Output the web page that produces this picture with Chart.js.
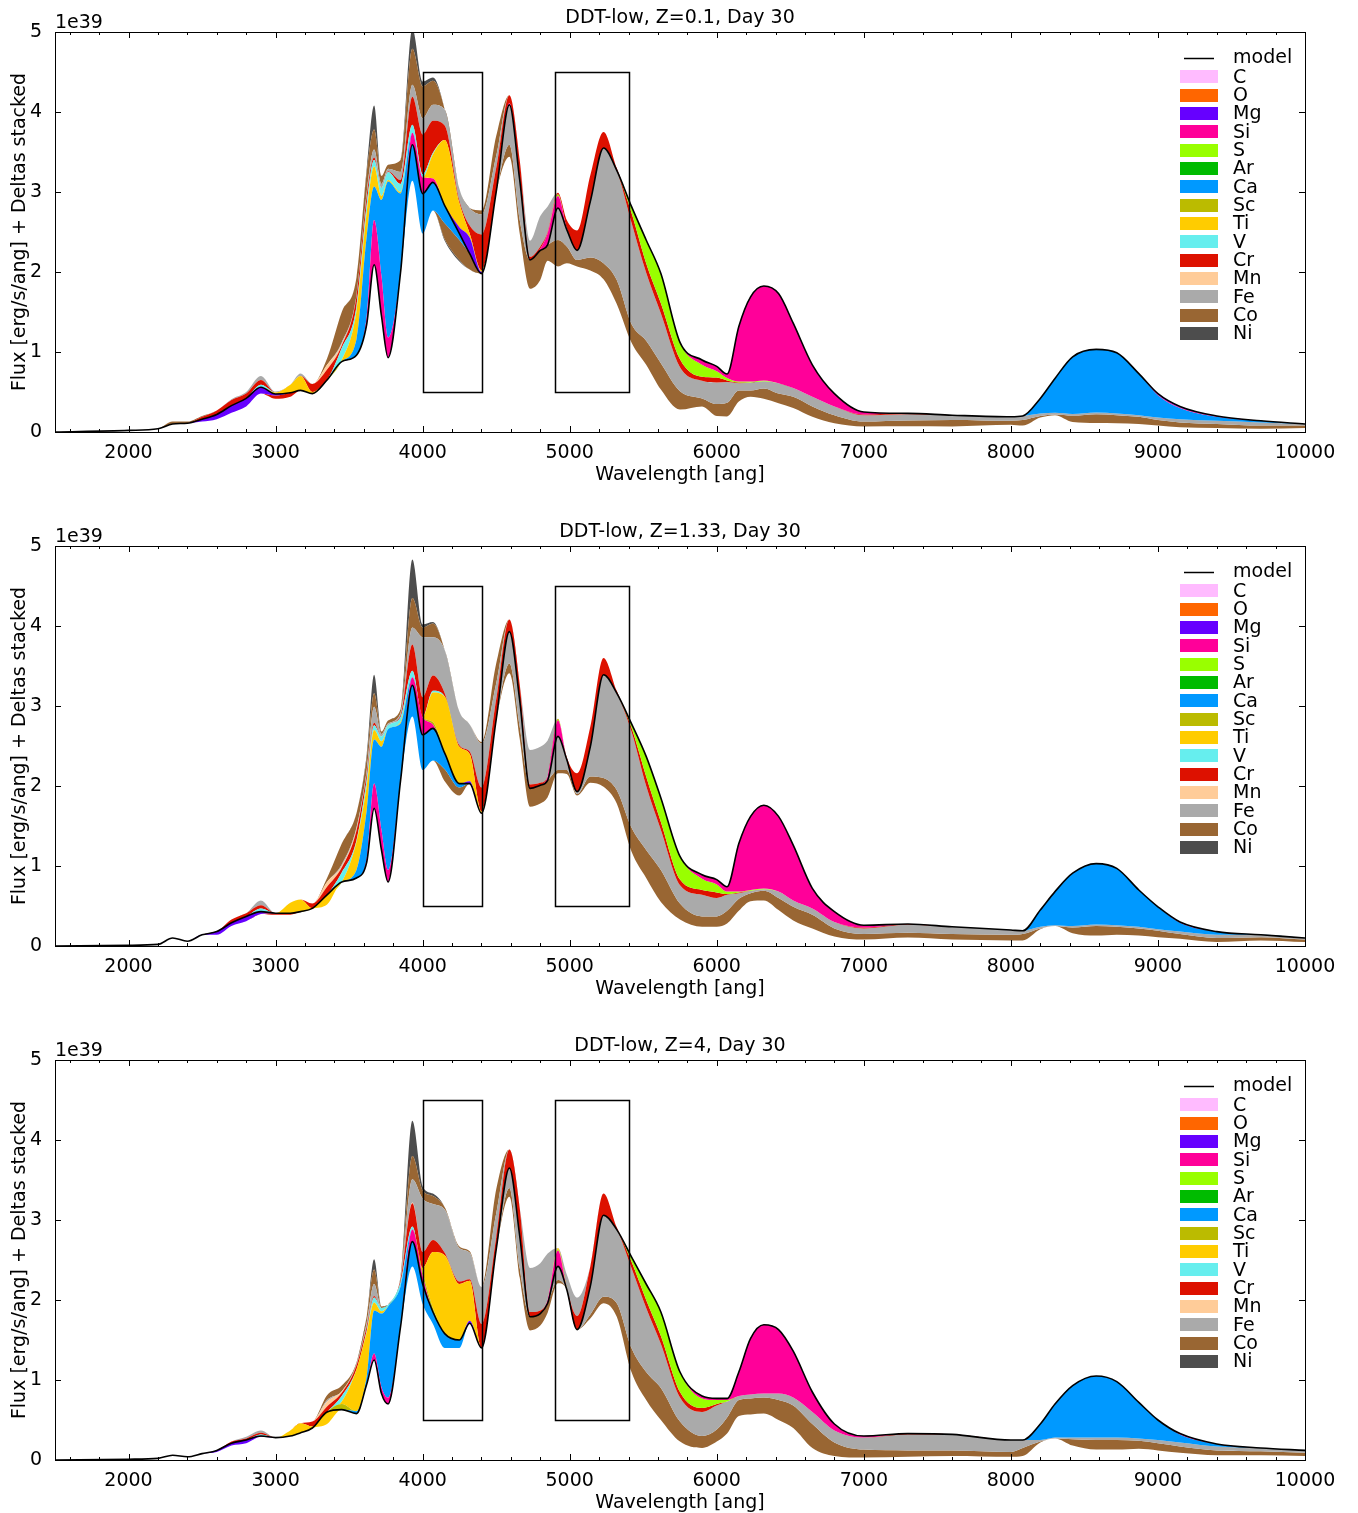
<!DOCTYPE html>
<html>
<head>
<meta charset="utf-8">
<script src="https://cdn.jsdelivr.net/npm/chart.js@4.4.1/dist/chart.umd.min.js"></script>
<style>
  html, body { margin: 0; padding: 0; background: #fff; overflow: hidden; }
  .panel { width: 1358px; height: 514px; }
</style>
</head>
<body>
<div class="panel"><canvas id="c1" width="1358" height="514"></canvas></div>
<div class="panel"><canvas id="c2" width="1358" height="514"></canvas></div>
<div class="panel"><canvas id="c3" width="1358" height="514"></canvas></div>
<script>
// wavelength grid [ang]
const wave = [1500,2000,2200,2300,2400,2500,2600,2700,2800,2900,
  3000,3100,3170,3250,3350,3450,3550,3620,3670,3720,
  3765,3850,3930,4000,4070,4150,4250,4320,4400,4500,
  4590,4660,4730,4800,4850,4920,4980,5050,5140,5230,
  5320,5420,5520,5620,5750,5900,6000,6070,6150,6230,
  6320,6420,6520,6650,6800,7000,7300,7600,8000,8080,
  8200,8300,8420,8580,8720,8870,9000,9150,9400,9700,
  10000];

const xTicks = [2000, 3000, 4000, 5000, 6000, 7000, 8000, 9000, 10000];
const yTicks = [0, 1, 2, 3, 4, 5];
const boxRanges = [[4000, 4400], [4900, 5400]];
const boxFlux = [0.5, 4.5];
const titles = ['DDT-low, Z=0.1, Day 30', 'DDT-low, Z=1.33, Day 30', 'DDT-low, Z=4, Day 30'];

const elements = ['C','O','Mg','Si','S','Ar','Ca','Sc','Ti','V','Cr','Mn','Fe','Co','Ni'];
const colors = ['#ffbbff','#ff6600','#6600ff','#ff0099','#99ff00','#00bb00','#0099ff','#bbbb00',
  '#ffcc00','#66eeee','#dd1100','#ffcc99','#aaaaaa','#996633','#4d4d4d'];

// ---- Z = 0.1 (flux in 1e39) ----
const p1Model = [0,0.02,0.04,0.10,0.11,0.16,0.22,0.33,0.42,0.56,
  0.475,0.49,0.52,0.48,0.65,0.88,0.96,1.35,2.09,1.45,
  0.93,2.0,3.59,2.98,3.12,2.83,2.48,2.23,1.98,3.0,
  4.09,3.15,2.15,2.27,2.34,2.8,2.53,2.27,2.88,3.55,
  3.27,2.82,2.4,1.98,1.12,0.9,0.82,0.725,1.32,1.69,
  1.825,1.73,1.36,0.84,0.48,0.25,0.233,0.21,0.19,0.2,
  0.42,0.67,0.94,1.033,0.99,0.73,0.48,0.32,0.2,0.14,
  0.1];
const p1Mg = [0,0,0,0,0,-0.03,-0.06,-0.09,-0.1,-0.08,
  -0.02,0,0,0,0,0,0,0,0,0,
  0,0,0,0,0,0,0.08,0.2,0.02,0,
  0,0,0,0,0,0,0,0,0,0,
  0,0,0,0,0,0,0,0,0,0,
  0,0,0,0,0,0,0,0,0,0,
  0,0,0,0,0,0,-0.01,-0.01,0,0,
  0];
const p1Si = [0,0,0,0,0,0,0,0,0,0,
  0,0,0,0,0,0,0,0.1,0.56,0.5,
  0.25,0,0.15,0.2,0.05,0,0,0,0,0,
  0.02,0,0,0.02,0.14,0.15,0.02,0,0,0,
  0,0,0,0,0,-0.06,-0.06,-0.05,-0.69,-1.06,
  -1.18,-1.12,-0.81,-0.4,-0.16,-0.03,0,0,0,0,
  0,0,0,0,0,0,-0.01,-0.01,-0.01,0,
  0];
const p1S = [0,0,0,0,0,0,0,0,0,0,
  0,0,0,0,0,0,0,0,0,0,
  0,0,0,0,0,0,0,0,0,0,
  0,0,0,0,0,0.02,0,0,0,0,
  0,-0.08,-0.29,-0.37,-0.21,-0.15,-0.08,-0.03,-0.01,-0.01,
  -0.01,0,0,0,0,0,0,0,0,0,
  0,0,0,0,0,0,0,0,0,0,
  0];
const p1Ca = [0,0,0,0,0,0,0,0,0,0,
  0,0,0,0,0,0,0.2,1.0,0.42,0.95,
  1.95,0.98,-0.45,-0.5,-0.35,-0.22,-0.08,0,0,0,
  0,0,0,0,0,0,0,0,0,0,
  0,0,0,0,0,0,0,0,0,0,
  0,0,0,0,0,0,0,0,0,0,
  -0.19,-0.43,-0.715,-0.79,-0.76,-0.52,-0.28,-0.14,-0.05,-0.02,
  0];
const p1Ti = [0,0,0,0,0,0,0,0,0,0,
  0.02,0.1,0.18,0.02,0,0.02,0.35,0.3,0.25,0.05,
  0.02,0.02,0,0,0.3,0.82,0.3,0.05,0.02,0,
  0,0,0,0,0,0,0,0,0,0,
  0,0,0,0,0,0,0,0,0,0,
  0,0,0,0,0,0,0,0,0,0,
  0,0,0,0,0,0,0,0,0,0,
  0];
const p1V = [0,0,0,0,0,0,0,0,0,0.03,
  0,0,0,0,0,0.15,0.06,0.1,0.08,0.1,
  0.1,0.1,0.1,0.04,0.02,0,0,0,0,0,
  0,0,0,0,0,0,0,0,0,0,
  0,0,0,0,0,0,0,0,0,0,
  0,0,0,0,0,0,0,0,0,0,
  0,0,0,0,0,0,0,0,0,0,
  0];
const p1Cr = [0,0,0,0,0,0.03,0.05,0.07,0.06,0.06,
  -0.04,-0.05,0,0.1,0.13,0.03,0.12,0.1,0.03,0,
  0.01,0.05,0.35,0.5,0.4,0.18,0.03,0.1,0.45,0.3,
  0.1,0.25,0.04,0.03,0.02,0.02,0.1,0.25,0.33,0.2,
  0.03,-0.12,-0.12,-0.13,-0.1,-0.05,-0.06,-0.02,-0.01,0,
  0,0,0,0,0,-0.01,-0.01,0,0,0,
  0,0,0,0,0,0,0,0,0,0,
  0];
const p1Mn = [0,0,0,0,0,0,0,0,0,0,
  0,0,0,0,0.06,0.02,0,0,0,0,
  0,0,0,0,0,0,0,0,0,0,
  0,0,0,0,0,0,0,0,0,0,
  0,0,0,0,0,0,0,0,0,0,
  0,0,0,0,0,0,0,0,0,0,
  0,0,0,0,0,0,0,0,0,0,
  0];
const p1Fe = [0,0,0,0,0,0,0,0.01,0.02,0.05,
  0.01,0,0.03,0,0,0.02,0.02,0.05,0.1,0.05,
  0.03,0.1,0.15,0.2,0.2,0.2,0.15,0.22,0.25,0.15,
  -0.5,-0.5,0.2,0.38,0.32,-0.4,-0.21,-0.12,-0.7,-1.44,
  -1.37,-1.27,-0.85,-0.62,-0.3,-0.22,-0.27,-0.26,-0.09,-0.1,
  -0.09,-0.13,-0.11,-0.12,-0.11,-0.08,-0.08,-0.06,-0.05,-0.05,
  -0.03,-0.02,-0.02,-0.02,-0.02,-0.02,-0.03,-0.04,-0.04,-0.04,
  -0.02];
const p1Co = [0,0,0,0.03,0.02,0.01,0,0,0,0,
  0,0,0,0,0.08,0.38,0.22,0.25,0.25,0.1,
  0.05,0.15,0.45,0.4,0.3,-0.2,-0.25,-0.2,0.05,0.25,
  -0.15,-0.17,-0.36,-0.37,-0.2,-0.33,-0.21,-0.08,-0.16,-0.2,
  -0.3,-0.23,-0.3,-0.33,-0.23,-0.1,-0.15,-0.17,-0.14,-0.08,
  -0.13,-0.12,-0.14,-0.13,-0.1,-0.06,-0.07,-0.08,-0.05,-0.07,
  -0.02,-0.01,-0.08,-0.11,-0.1,-0.09,-0.07,-0.06,-0.05,-0.04,
  -0.03];
const p1Ni = [0,0,0,0,0,0,0,0,0,0,
  0,0,0,0,0,0,0,0.05,0.3,0,
  0,0,0.25,0.06,0.04,-0.02,-0.02,0,0,0,
  0,0,0,0,0,0,0,0,0,0,
  0,0,0,0,0,0,0,0,0,0,
  0,0,0,0,0,0,0,0,0,0,
  0,0,0,0,0,0,0,0,0,0,
  0];

// ---- Z = 1.33 ----
const p2Model = [0,0.01,0.02,0.10,0.06,0.14,0.18,0.29,0.37,0.43,
  0.41,0.41,0.43,0.47,0.64,0.8,0.85,1.05,1.72,1.2,
  0.8,2.07,3.26,2.64,2.72,2.41,2.03,2.03,1.66,2.83,
  3.93,3.07,1.97,2.01,2.07,2.62,2.33,1.93,2.49,3.39,
  3.16,2.78,2.37,1.85,1.12,0.89,0.83,0.74,1.28,1.62,
  1.76,1.62,1.26,0.72,0.43,0.26,0.275,0.24,0.2,0.19,
  0.45,0.68,0.91,1.03,0.97,0.7,0.49,0.3,0.18,0.14,
  0.1];
const p2Mg = [0,0,0,0,0,0,-0.04,-0.04,-0.06,-0.03,
  0,0,0,0,0,0,0,0,0,0,
  0,0,0,0,0,0,0,0.03,0,0,
  0,0,0,0,0,0,0,0,0,0,
  0,0,0,0,0,0,0,0,0,0,
  0,0,0,0,0,0,0,0,0,0,
  0,0,0,0,0,0,0,0,0,0,
  0];
const p2Si = [0,0,0,0,0,0,0,0,0,0,
  0,0,0,0,0,0,0,0.05,0.31,0.25,
  0.15,0,0.1,0.22,0.05,0,0,0,0,0,
  0,0,0,0,0.05,0.2,0,0,0,0,
  0,0,0,0,0,-0.05,-0.06,-0.06,-0.6,-0.92,
  -1.04,-0.94,-0.69,-0.25,-0.13,-0.03,0,0,0,0,
  0,0,0,0,0,0,0,-0.01,0,0,
  0];
const p2S = [0,0,0,0,0,0,0,0,0,0,
  0,0,0,0,0,0,0,0,0,0,
  0,0,0,0,0,0,0,0,0,0,
  0,0,0,0,0,0,0,0,0,0,
  0,-0.05,-0.25,-0.3,-0.29,-0.14,-0.1,-0.03,-0.01,-0.01,
  -0.01,0,0,0,0,0,0,0,0,0,
  0,0,0,0,0,0,0,0,0,0,
  0];
const p2Ca = [0,0,0,0,0,0,0,0,0,0,
  0,0,0,0,0,0,0.1,0.6,0.55,1.04,
  1.76,0.71,-0.39,-0.44,-0.4,-0.2,-0.05,0,0,0,
  0,0,0,0,0,0,0,0,0,0,
  0,0,0,0,0,0,0,0,0,0,
  0,0,0,0,0,0,0,0,0,0,
  -0.21,-0.42,-0.66,-0.76,-0.71,-0.46,-0.28,-0.11,-0.04,0,
  0];
const p2Sc = [0,0,0,0,0,0,0,0,0,0,
  0,0,0,0,0,0,0,0,0,0,
  0,0,0,0,0.03,0,0,0,0,0,
  0,0,0,0,0,0.02,0,0,0,0,
  0,0,0,0,0,0,0,0,0,0,
  0,0,0,0,0,0,0,0,0,0,
  0,0,0,0,0,0,0,0,0,0,
  0];
const p2Ti = [0,0,0,0,0,0,0,0,0,0,
  0,0.13,0.15,0,-0.12,0,0.35,0.3,0.12,0.07,
  0,0.02,0,0,0.37,0.71,0.46,0.34,0.02,0,
  0,0,0,0,0,0,0,0,0,0,
  0,0,0,0,0,0,0,0,0,0,
  0,0,0,0,0,0,0,0,0,0,
  0,0,0,0,0,0,0,0,0,0,
  0];
const p2V = [0,0,0,0,0,0,0,0,0,0.04,
  0,0,0,0,0,0.12,0.02,0.08,0.06,0.06,
  0.05,0.06,0.08,0,0.02,0,0,0,0,0,
  0,0,0,0,0,0,0,0,0,0,
  0,0,0,0,0,0,0,0,0,0,
  0,0,0,0,0,0,0,0,0,0,
  0,0,0,0,0,0,0,0,0,0,
  0];
const p2Cr = [0,0,0,0,0,0,0,0.04,0.04,0.04,
  -0.02,-0.02,0,0.06,0.1,0.06,0.12,0.07,0.03,0,
  0,0.02,0.33,0.25,0.19,0.04,0.02,0.03,0.3,0.25,
  0.15,0.2,0.05,0.03,0,0,0.03,0.23,0.25,0.21,
  0.03,-0.05,-0.12,-0.1,-0.07,-0.06,-0.07,-0.01,-0.01,0,
  0,0,0,0,0,-0.01,-0.01,0,0,0,
  0,0,0,0,0,0,0,0,0,0,
  0];
const p2Mn = [0,0,0,0,0,0,0,0,0,0,
  0,0,0,0,0.06,0.02,0.02,0,0,0,
  0,0,0,0,0,0,0,0,0,0,
  0,0,0,0,0,0,0,0,0,0,
  0,0,0,0,0,0,0,0,0,0,
  0,0,0,0,0,0,0,0,0,0,
  0,0,0,0,0,0,0,0,0,0,
  0];
const p2Fe = [0,0,0,0,0,0,0,0,0,0.06,
  0,0,0,0,0,0.02,0.02,0.05,0.2,0.03,
  0.02,0.03,0.21,0.75,0.48,0.54,0.42,0.34,0.55,0.2,
  -0.4,-0.33,0.43,0.45,0.45,-0.42,-0.13,-0.03,-0.37,-1.29,
  -1.21,-1.2,-0.8,-0.5,-0.23,-0.27,-0.23,-0.2,-0.07,-0.03,
  -0.02,-0.08,-0.08,-0.08,-0.08,-0.07,-0.1,-0.09,-0.06,-0.04,
  -0.02,-0.01,-0.02,-0.02,-0.02,-0.02,-0.02,-0.03,-0.04,-0.03,
  -0.02];
const p2Co = [0,0,0,0,0,0,0,0,0,0,
  0,0,0,0,0.05,0.26,0.18,0.15,0.17,0.03,
  0.04,0.05,0.37,0.12,0.17,-0.15,-0.1,0,0.02,0.25,
  -0.12,-0.15,-0.23,-0.23,-0.21,-0.04,-0.05,-0.02,-0.08,-0.11,
  -0.17,-0.3,-0.35,-0.4,-0.2,-0.13,-0.13,-0.16,-0.15,-0.1,
  -0.12,-0.15,-0.17,-0.17,-0.1,-0.07,-0.06,-0.07,-0.07,-0.08,
  -0.01,0,-0.07,-0.12,-0.1,-0.09,-0.08,-0.06,-0.05,-0.04,
  -0.03];
const p2Ni = [0,0,0,0,0,0,0,0,0,0,
  0,0,0,0,0,0,0,0.05,0.23,0,
  0,0,0.48,0.04,0.02,0,0,0,0,0,
  0,0,0,0,0,0,0,0,0,0,
  0,0,0,0,0,0,0,0,0,0,
  0,0,0,0,0,0,0,0,0,0,
  0,0,0,0,0,0,0,0,0,0,
  0];

// ---- Z = 4 ----
const p3Model = [0,0.01,0.02,0.06,0.04,0.08,0.12,0.21,0.25,0.3,
  0.28,0.3,0.34,0.4,0.6,0.63,0.58,0.95,1.25,0.83,
  0.7,1.67,2.73,2.2,1.85,1.58,1.5,1.71,1.4,2.63,
  3.65,2.8,1.79,1.83,1.96,2.42,2.13,1.63,2.17,3.06,
  2.88,2.54,2.2,1.85,1.1,0.8,0.77,0.77,1.1,1.52,
  1.69,1.63,1.36,0.85,0.45,0.3,0.33,0.32,0.25,0.25,
  0.45,0.7,0.93,1.05,0.98,0.72,0.5,0.33,0.2,0.15,
  0.12];
const p3Mg = [0,0,0,0,0,0,-0.02,-0.03,-0.04,-0.01,
  0,0,0,0,0,0,0,0,0,0,
  0,0,0,0,0,0,0,0.03,0,0,
  0,0,0,0,0,0,0,0,0,0,
  0,0,0,0,0,0,0,0,0,0,
  0,0,0,0,0,0,0,0,0,0,
  0,0,0,0,0,0,0,0,0,0,
  0];
const p3Si = [0,0,0,0,0,0,0,0,0,0,
  0,0,0,0,0,0,0,0,0.08,0.08,
  0.08,0,0.15,0.1,0,0,0,0,0,0,
  0,0,0,0,0.04,0.2,0,0,0,0,
  0,0,0,0,0,-0.03,-0.02,-0.02,-0.3,-0.7,
  -0.86,-0.8,-0.58,-0.25,-0.08,-0.02,0,0,0,0,
  0,0,0,0,0,0,0,-0.01,0,0,
  0];
const p3S = [0,0,0,0,0,0,0,0,0,0,
  0,0,0,0,0,0,0,0,0,0,
  0,0,0,0,0,0,0,0,0,0,
  0,0,0,0,0,0.01,0,0,0,0,
  0,-0.06,-0.2,-0.3,-0.25,-0.12,-0.05,-0.02,0,0,
  0,0,0,0,0,0,0,0,0,0,
  0,0,0,0,0,0,0,0,0,0,
  0];
const p3Ca = [0,0,0,0,0,0,0,0,0,0,
  0,0,0,0,0,0,0.03,0.1,0.54,0.92,
  1.14,0.5,-0.31,-0.25,-0.15,-0.18,-0.1,0,0,0,
  0,0,0,0,0,0,0,0,0,0,
  0,0,0,0,0,0,0,0,0,0,
  0,0,0,0,0,0,0,0,0,0,
  -0.2,-0.42,-0.65,-0.77,-0.7,-0.45,-0.25,-0.1,-0.03,0,
  0];
const p3Sc = [0,0,0,0,0,0,0,0,0,0,
  0,0,0,0,0,0.07,0,0,0,0,
  0,0,0,0.05,0.05,0,0,0,0,0,
  0,0,0,0,0,0,0,0,0,0,
  0,0,0,0,0,0,0,0,0,0,
  0,0,0,0,0,0,0,0,0,0,
  0,0,0,0,0,0,0,0,0,0,
  0];
const p3Ti = [0,0,0,0,0,0,0,0,0,0,
  0,0.07,0.12,0.02,-0.15,0.03,0.52,0.55,0.1,0.03,
  0,0,0,0.05,0.7,0.98,0.7,0.5,0,0,
  0,0,0,0,0,0.02,0.02,0,0,0,
  0,0,0,0,0,0,0,0,0,0,
  0,0,0,0,0,0,0,0,0,0,
  0,0,0,0,0,0,0,0,0,0,
  0];
const p3V = [0,0,0,0,0,0,0,0,0,0.02,
  0,0,0,0,0,0.07,0,0.02,0.06,0.04,
  0.02,0.05,0.04,0,0,0,0,0,0,0,
  0,0,0,0,0,0,0,0,0,0,
  0,0,0,0,0,0,0,0,0,0,
  0,0,0,0,0,0,0,0,0,0,
  0,0,0,0,0,0,0,0,0,0,
  0];
const p3Cr = [0,0,0,0,0,0,0,0.02,0.02,0.02,
  0,0,0,0.06,0.07,0.04,0.05,0.05,0.02,0,
  0,0.03,0.29,0.2,0.15,0.03,0.03,0.02,0.3,0.15,
  0.23,0.35,0.06,0.04,0,0,0,0.17,0.25,0.27,
  0.03,-0.08,-0.1,-0.1,-0.07,-0.05,-0.02,0,0,0,
  0,0,0,0,0,0,-0.01,0,0,0,
  0,0,0,0,0,0,0,0,0,0,
  0];
const p3Mn = [0,0,0,0,0,0,0,0,0,0,
  0,0,0,0,0.06,0.02,0,0,0,0,
  0,0,0.01,0,0,0,0,0,0,0,
  0,0,0,0,0,0,0,0,0,0,
  0,0,0,0,0,0,0,0,0,0,
  0,0,0,0,0,0,0,0,0,0,
  0,0,0,0,0,0,0,0,0,0,
  0];
const p3Fe = [0,0,0,0,0,0,0,0,0.02,0.03,
  0,0,0,0,0.02,0,0.02,0.05,0.15,0,
  0,0.02,0.29,0.67,0.45,0.54,0.42,0.33,0.46,0.3,
  -0.25,-0.4,0.55,0.59,0.58,-0.17,0.17,0.23,-0.35,-1.02,
  -0.92,-1.0,-0.8,-0.55,-0.3,-0.3,-0.3,-0.2,-0.05,-0.05,
  -0.05,-0.08,-0.1,-0.15,-0.15,-0.15,-0.2,-0.2,-0.15,-0.1,
  -0.02,-0.01,-0.02,-0.03,-0.03,-0.03,-0.04,-0.05,-0.05,-0.04,
  -0.03];
const p3Co = [0,0,0,0,0,0,0,0,0,0,
  0,0,0,0,0.06,0.07,0.02,0.08,0.18,0.02,
  0,0.02,0.29,0.1,0.1,0.03,0.02,0.02,0,0.3,
  -0.11,-0.12,-0.17,-0.15,-0.12,-0.04,0,0,-0.05,-0.08,
  -0.17,-0.3,-0.35,-0.4,-0.25,-0.15,-0.15,-0.2,-0.2,-0.2,
  -0.2,-0.25,-0.28,-0.3,-0.17,-0.1,-0.08,-0.07,-0.06,-0.1,
  -0.01,0,-0.08,-0.12,-0.12,-0.1,-0.09,-0.08,-0.06,-0.05,
  -0.04];
const p3Ni = [0,0,0,0,0,0,0,0,0,0,
  0,0,0,0,0,0,0,0,0.13,0,
  0,0,0.44,0.05,0.03,0,0,0,0,0,
  0,0,0,0,0,0,0,0,0,0,
  0,0,0,0,0,0,0,0,0,0,
  0,0,0,0,0,0,0,0,0,0,
  0,0,0,0,0,0,0,0,0,0,
  0];

const panels = [
  { id: 'c1', title: titles[0], model: p1Model,
    deltas: { Mg: p1Mg, Si: p1Si, S: p1S, Ca: p1Ca, Ti: p1Ti, V: p1V, Cr: p1Cr, Mn: p1Mn, Fe: p1Fe, Co: p1Co, Ni: p1Ni } },
  { id: 'c2', title: titles[1], model: p2Model,
    deltas: { Mg: p2Mg, Si: p2Si, S: p2S, Ca: p2Ca, Sc: p2Sc, Ti: p2Ti, V: p2V, Cr: p2Cr, Mn: p2Mn, Fe: p2Fe, Co: p2Co, Ni: p2Ni } },
  { id: 'c3', title: titles[2], model: p3Model,
    deltas: { Mg: p3Mg, Si: p3Si, S: p3S, Ca: p3Ca, Sc: p3Sc, Ti: p3Ti, V: p3V, Cr: p3Cr, Mn: p3Mn, Fe: p3Fe, Co: p3Co, Ni: p3Ni } },
];

const FONT = 'DejaVu Sans';
const points = arr => wave.map((w, i) => ({ x: w, y: arr[i] }));

// positive deltas are stacked upward from the model, negative ones downward,
// each band filled against the previous boundary
function buildDatasets(model, deltas) {
  const sets = [{ data: points(model), borderColor: '#000', borderWidth: 1.6, fill: false }];
  let upper = model.slice(), lower = model.slice();
  let upIdx = 0, lowIdx = 0;
  elements.forEach((name, k) => {
    const d = deltas[name];
    if (!d) return;
    if (d.length !== wave.length) throw new Error(name + ' length ' + d.length);
    if (d.some(v => v > 0)) {
      upper = upper.map((v, i) => v + Math.max(d[i], 0));
      sets.push({ data: points(upper), borderWidth: 0, backgroundColor: colors[k], fill: upIdx });
      upIdx = sets.length - 1;
    }
    if (d.some(v => v < 0)) {
      lower = lower.map((v, i) => v + Math.min(d[i], 0));
      sets.push({ data: points(lower), borderWidth: 0, backgroundColor: colors[k], fill: lowIdx });
      lowIdx = sets.length - 1;
    }
  });
  return sets;
}

const decor = {
  id: 'decor',
  afterDatasetsDraw(chart, args, opts) {
    const { ctx, chartArea: a, scales: { x, y } } = chart;
    const r = v => Math.round(v) + 0.5;
    ctx.save();
    ctx.strokeStyle = '#000';

    // boxes
    ctx.lineWidth = 1.5;
    boxRanges.forEach(([w0, w1]) => {
      const x0 = x.getPixelForValue(w0), x1 = x.getPixelForValue(w1);
      const y0 = y.getPixelForValue(boxFlux[0]), y1 = y.getPixelForValue(boxFlux[1]);
      ctx.strokeRect(r(x0), r(y1), Math.round(x1 - x0), Math.round(y0 - y1));
    });

    // frame + inward ticks
    ctx.lineWidth = 1;
    ctx.strokeRect(r(a.left), r(a.top), Math.round(a.width), Math.round(a.height));
    ctx.beginPath();
    for (let w = 1600; w < 10000; w += 200) {
      const px = r(x.getPixelForValue(w));
      const len = xTicks.includes(w) ? 6 : 3;
      ctx.moveTo(px, a.bottom); ctx.lineTo(px, a.bottom - len);
      ctx.moveTo(px, a.top); ctx.lineTo(px, a.top + len);
    }
    yTicks.slice(1, -1).forEach(v => {
      const py = r(y.getPixelForValue(v));
      ctx.moveTo(a.left, py); ctx.lineTo(a.left + 6, py);
      ctx.moveTo(a.right, py); ctx.lineTo(a.right - 6, py);
    });
    ctx.stroke();

    // title and offset label
    ctx.fillStyle = '#000';
    ctx.font = '19px "' + FONT + '"';
    ctx.textAlign = 'center';
    ctx.textBaseline = 'alphabetic';
    ctx.fillText(opts.title, (a.left + a.right) / 2, a.top - 9);
    ctx.textAlign = 'left';
    ctx.fillText('1e39', a.left, a.top - 4);

    // legend
    const lx = a.right - 125;
    const rowH = 18.33;
    let cy = a.top + 26.5;
    ctx.lineWidth = 1.5;
    ctx.beginPath();
    ctx.moveTo(lx + 4, cy); ctx.lineTo(lx + 34, cy);
    ctx.stroke();
    ctx.textBaseline = 'middle';
    ctx.fillText('model', a.right - 72, cy);
    elements.forEach((name, k) => {
      cy += rowH;
      ctx.fillStyle = colors[k];
      ctx.fillRect(lx, Math.round(cy - 6.5), 38, 13);
      ctx.fillStyle = '#000';
      ctx.fillText(name, a.right - 72, cy + 1);
    });
    ctx.restore();
  }
};

panels.forEach(p => {
  new Chart(document.getElementById(p.id), {
    type: 'line',
    data: { datasets: buildDatasets(p.model, p.deltas) },
    plugins: [decor],
    options: {
      responsive: false,
      animation: false,
      events: [],
      layout: { padding: { top: 32, right: 53, left: 0, bottom: 0 } },
      elements: {
        point: { radius: 0 },
        line: { cubicInterpolationMode: 'monotone' },
      },
      plugins: {
        legend: { display: false },
        tooltip: { enabled: false },
        decor: { title: p.title },
      },
      scales: {
        x: {
          type: 'linear', min: 1500, max: 10000,
          afterBuildTicks: s => { s.ticks = xTicks.map(v => ({ value: v })); },
          afterFit: s => { s.height = 82; },
          grid: { display: false }, border: { display: false },
          ticks: { color: '#000', padding: 4, maxRotation: 0, autoSkip: false,
                   font: { family: FONT, size: 19, lineHeight: 1 }, callback: v => String(v) },
          title: { display: true, text: 'Wavelength [ang]', color: '#000',
                   font: { family: FONT, size: 19 }, padding: { top: 0, bottom: 28 } },
        },
        y: {
          min: 0, max: 5,
          afterBuildTicks: s => { s.ticks = yTicks.map(v => ({ value: v })); },
          afterFit: s => { s.width = 55; },
          grid: { display: false }, border: { display: false },
          ticks: { color: '#000', padding: 5, font: { family: FONT, size: 19 }, callback: v => String(v) },
          title: { display: true, text: 'Flux [erg/s/ang] + Deltas stacked', color: '#000',
                   font: { family: FONT, size: 19 }, padding: { top: 9, bottom: 0 } },
        },
      },
    },
  });
});
</script>
</body>
</html>
